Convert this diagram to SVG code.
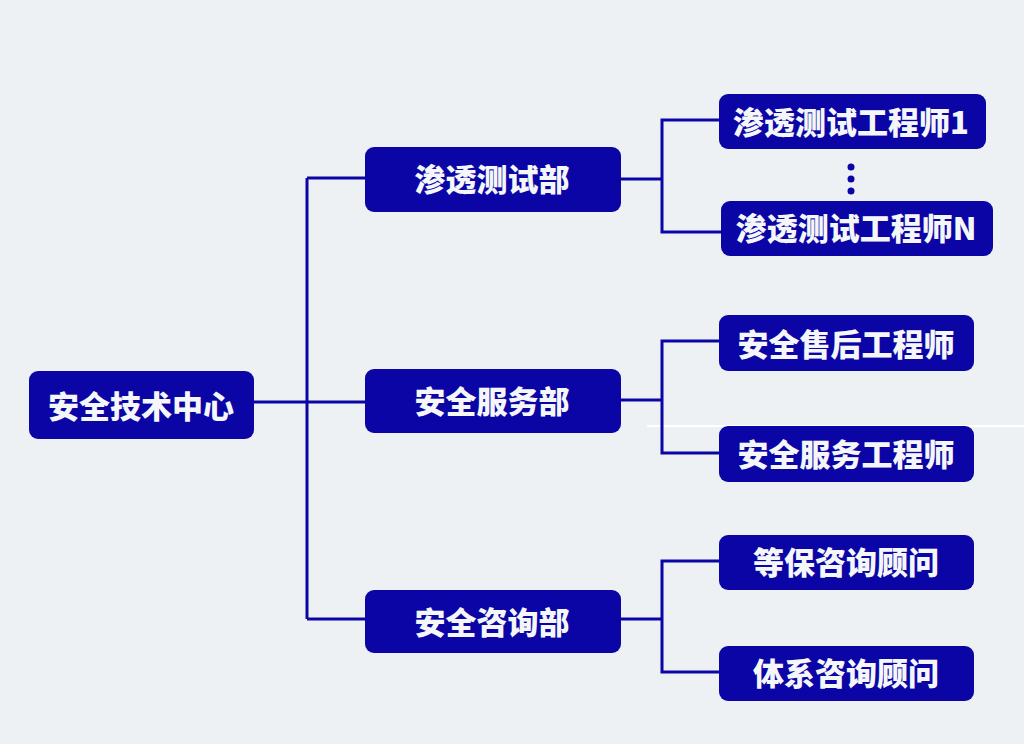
<svg xmlns="http://www.w3.org/2000/svg" width="1024" height="744" viewBox="0 0 1024 744">
<style>
.node rect{fill:#0b05a6;}
.node text{fill:#f4f6f8;font-family:"Noto Sans CJK SC","Noto Sans",sans-serif;font-weight:900;font-size:31px;text-anchor:middle;}
#connectors path{fill:none;stroke:#0b05a6;stroke-width:3;}
</style>
<rect x="0" y="0" width="1024" height="744" fill="#eef1f3"/>
<line x1="647" y1="426" x2="1024" y2="426" stroke="#ffffff" stroke-width="2"/>
<g id="connectors">
<path d="M254 402 H365"/>
<path d="M307 178 V619"/>
<path d="M307 178 H365"/>
<path d="M307 619 H365"/>
<path d="M621 179 H662"/>
<path d="M621 400 H662"/>
<path d="M621 619 H662"/>
<path d="M719 120 H662 V232 H721"/>
<path d="M719 341 H662 V453 H719"/>
<path d="M719 561 H662 V672 H719"/>
</g>
<g id="dots" fill="#0b05a6">
<circle cx="851" cy="167" r="3.5"/>
<circle cx="851" cy="179" r="3.5"/>
<circle cx="851" cy="191" r="3.5"/>
</g>
<g id="root" class="node"><rect x="29" y="371" width="225" height="68" rx="9"/><text x="141" y="418">安全技术中心</text></g>
<g id="dept-pentest" class="node"><rect x="365" y="147" width="256" height="65" rx="9"/><text x="492" y="191">渗透测试部</text></g>
<g id="dept-service" class="node"><rect x="365" y="369" width="256" height="64" rx="9"/><text x="492" y="413">安全服务部</text></g>
<g id="dept-consult" class="node"><rect x="365" y="590" width="256" height="63" rx="9"/><text x="492" y="634">安全咨询部</text></g>
<g id="pentest-1" class="node"><rect x="719" y="94" width="267" height="55" rx="9"/><text x="851" y="134">渗透测试工程师1</text></g>
<g id="pentest-n" class="node"><rect x="721" y="201" width="272" height="55" rx="9"/><text x="856" y="240">渗透测试工程师N</text></g>
<g id="after-sales" class="node"><rect x="719" y="315" width="255" height="56" rx="9"/><text x="846" y="356">安全售后工程师</text></g>
<g id="service-eng" class="node"><rect x="719" y="426" width="255" height="56" rx="9"/><text x="846" y="466">安全服务工程师</text></g>
<g id="mlps" class="node"><rect x="719" y="535" width="255" height="55" rx="9"/><text x="846" y="574">等保咨询顾问</text></g>
<g id="system" class="node"><rect x="719" y="646" width="255" height="55" rx="9"/><text x="846" y="685">体系咨询顾问</text></g>
</svg>
